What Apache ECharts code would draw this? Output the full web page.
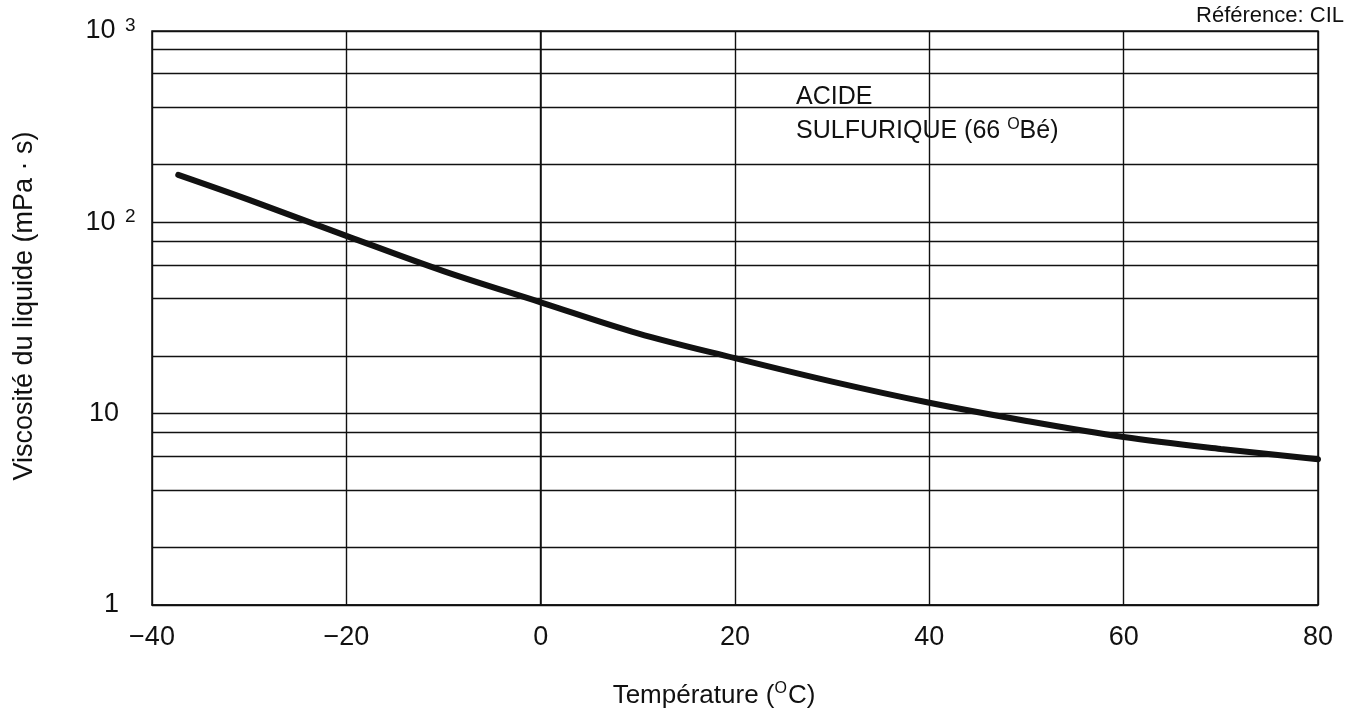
<!DOCTYPE html>
<html>
<head>
<meta charset="utf-8">
<title>Viscosité de l'acide sulfurique</title>
<script src="https://cdn.jsdelivr.net/npm/echarts@6/dist/echarts.min.js"></script>
<style>
  html, body { margin: 0; padding: 0; background: #ffffff; }
  #chart { width: 1349px; height: 722px; }
</style>
</head>
<body>
<div id="chart"></div>
<script>
// Température (°C) et viscosité (mPa·s) de l'acide sulfurique à 66 °Bé
const temperatures = [-37.3, -30, -20, -10, 0, 10, 20, 30, 40, 50, 60, 70, 80];
const viscosities = [177, 131, 85, 55.6, 38.2, 26.3, 19.5, 14.7, 11.4, 9.16, 7.55, 6.54, 5.78];

// Lignes intermédiaires du papier semi-logarithmique (2, 4, 6, 8 par décade)
const minorGrid = [2, 4, 6, 8, 20, 40, 60, 80, 200, 400, 600, 800];

// Étiquettes de l'axe vertical
const yTickLabels = { 1: '{n|1}', 10: '{n|10}', 100: '{m|10}{s|2}', 1000: '{m|10}{s|3}' };

const INK = '#111111';
const FONT = '"Liberation Sans", Arial, Helvetica, sans-serif';

const chart = echarts.init(document.getElementById('chart'), null, { renderer: 'canvas' });

const gridLine = { color: INK, width: 1.4, type: 'solid' };

chart.setOption({
  backgroundColor: '#ffffff',
  animation: false,
  textStyle: { fontFamily: FONT, color: INK },
  title: {
    text: 'Référence: CIL',
    right: 0,
    top: 0,
    textStyle: { fontFamily: FONT, fontSize: 22, fontWeight: 'normal', color: INK }
  },
  grid: {
    left: 152, right: 31, top: 31, bottom: 117,
    containLabel: false,
    outerBoundsMode: 'none',
    show: true, borderColor: INK, borderWidth: 1.5
  },
  xAxis: {
    type: 'value',
    min: -40,
    max: 80,
    interval: 20,
    axisLine: { show: true, lineStyle: { color: INK, width: 1.5 } },
    axisTick: { show: false },
    splitLine: { show: true, lineStyle: gridLine },
    axisLabel: {
      margin: 19,
      fontSize: 27,
      color: INK,
      fontFamily: FONT,
      formatter: v => String(v).replace('-', '\u2212')
    },
    name: '{t|Température (}{s|O}{t|C)}',
    nameLocation: 'middle',
    nameGap: 76,
    nameTextStyle: {
      padding: [0, 42, 0, 0],
      rich: {
        t: { fontSize: 26, fontFamily: FONT, color: INK, lineHeight: 30 },
        s: { fontSize: 16, fontFamily: FONT, color: INK, verticalAlign: 'top', lineHeight: 16, padding: [0, 1, 0, 0] }
      }
    }
  },
  yAxis: {
    type: 'log',
    logBase: 10,
    min: 1,
    max: 1000,
    axisLine: { show: true, lineStyle: { color: INK, width: 1.5 } },
    axisTick: { show: false },
    splitLine: { show: true, lineStyle: gridLine },
    minorSplitLine: { show: false },
    axisLabel: {
      align: 'left',
      margin: 65,
      formatter: v => yTickLabels[Math.round(v)] || '',
      rich: {
        n: { fontSize: 27, fontFamily: FONT, color: INK, width: 32, align: 'right', lineHeight: 30 },
        m: { fontSize: 27, fontFamily: FONT, color: INK, width: 27, align: 'right', lineHeight: 30 },
        s: { fontSize: 19, fontFamily: FONT, color: INK, verticalAlign: 'top', lineHeight: 19, padding: [0, 0, 0, 11] }
      }
    },
    name: 'Viscosité du liquide (mPa · s)',
    nameLocation: 'middle',
    nameGap: 114,
    nameRotate: 90,
    nameTextStyle: { fontSize: 27, fontFamily: FONT, color: INK, padding: [0, 0, 0, 24] }
  },
  series: [{
    type: 'line',
    data: temperatures.map((t, i) => [t, viscosities[i]]),
    smooth: 0.35,
    showSymbol: false,
    lineStyle: { color: INK, width: 6, cap: 'round' },
    z: 5,
    markLine: {
      silent: true,
      symbol: 'none',
      label: { show: false },
      lineStyle: gridLine,
      data: minorGrid.map(v => ({ yAxis: v })),
      z: 1
    }
  }],
  graphic: [{
    type: 'group',
    left: 783,
    top: 77,
    children: [
      {
        type: 'rect',
        shape: { x: 0, y: 0, width: 297, height: 73 },
        style: { fill: '#ffffff' }
      },
      {
        type: 'text',
        x: 13,
        y: 8,
        style: { text: 'ACIDE', font: '25px ' + FONT, fill: INK }
      },
      {
        type: 'text',
        x: 13,
        y: 40,
        style: {
          text: '{a|SULFURIQUE (66 }{s|O}{a|Bé)}',
          rich: {
            a: { fontSize: 25, fontFamily: FONT, fill: INK, lineHeight: 29 },
            s: { fontSize: 16, fontFamily: FONT, fill: INK, verticalAlign: 'top', lineHeight: 16 }
          }
        }
      }
    ]
  }]
});
</script>
</body>
</html>
